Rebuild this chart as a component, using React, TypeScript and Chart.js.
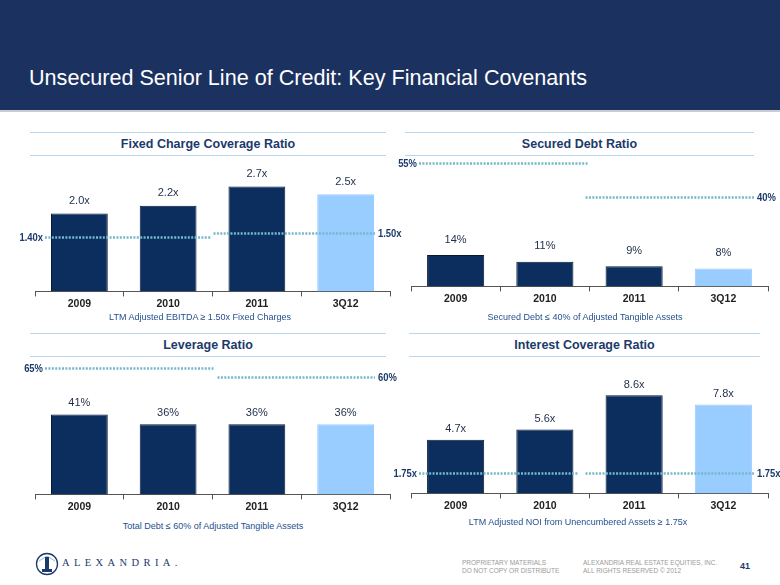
import React, { useEffect, useRef } from 'react';
import { Chart, registerables } from 'chart.js';

Chart.register(...registerables);

// ---------- data ----------
const categories = ['2009', '2010', '2011', '3Q12'];

const fixedChargeValues = [2.0, 2.2, 2.7, 2.5];
const fixedChargeThresholds = [1.4, 1.5];

const securedDebtValues = [14, 11, 9, 8];
const securedDebtThresholds = [55, 40];

const leverageValues = [41, 36, 36, 36];
const leverageThresholds = [65, 60];

const interestValues = [4.7, 5.6, 8.6, 7.8];
const interestThresholds = [1.75, 1.75];

const panelTitles = [
  'Fixed Charge Coverage Ratio',
  'Secured Debt Ratio',
  'Leverage Ratio',
  'Interest Coverage Ratio',
];
const panelSubtitles = [
  'LTM Adjusted EBITDA \u2265 1.50x Fixed Charges',
  'Secured Debt \u2264 40% of Adjusted Tangible Assets',
  'Total Debt \u2264 60% of Adjusted Tangible Assets',
  'LTM Adjusted NOI from Unencumbered Assets \u2265 1.75x',
];

// ---------- styles ----------
const FONT = '"Liberation Sans", Arial, Helvetica, sans-serif';
const NAVY = '#0C2E5E';
const NAVY_EDGE = '#061A38';
const LIGHT = '#99CCFF';
const DOT = '#74B9CB';
const TEXT_NAVY = '#1B3A6B';

const fmtX = (v: number) => v.toFixed(1) + 'x';
const fmtPct = (v: number) => Math.round(v) + '%';
const fmtThrX = (v: number) => v.toFixed(2) + 'x';

const annotatePlugin = {
  id: 'annotate',
  afterDatasetsDraw(chart: any, _args: any, opts: any) {
    const ctx = chart.ctx as CanvasRenderingContext2D;
    const meta = chart.getDatasetMeta(0);
    const data = chart.data.datasets[0].data as number[];
    ctx.save();
    // value labels
    ctx.font = '11px ' + FONT;
    ctx.fillStyle = '#1E2D4A';
    ctx.textAlign = 'center';
    ctx.textBaseline = 'bottom';
    meta.data.forEach((bar: any, i: number) => {
      ctx.fillText(opts.format(data[i]), bar.x, bar.y - opts.labelGap);
    });
    // threshold lines
    const { left, right } = chart.chartArea;
    const mid = (left + right) / 2;
    const yScale = chart.scales.y;
    const spans = [
      [left + opts.spans[0][0], mid + opts.spans[0][1]],
      [mid + opts.spans[1][0], right + opts.spans[1][1]],
    ];
    const SX = 0.82;
    (opts.thresholds as number[]).forEach((t, i) => {
      const py = Math.round(yScale.getPixelForValue(t)) + 0.5;
      const [x0, x1] = spans[i];
      ctx.strokeStyle = DOT;
      ctx.lineWidth = 2.5;
      ctx.setLineDash([2, 1.4]);
      ctx.beginPath();
      ctx.moveTo(x0, py);
      ctx.lineTo(x1, py);
      ctx.stroke();
      ctx.setLineDash([]);
      // condensed bold label
      ctx.save();
      ctx.font = 'bold 11.5px ' + FONT;
      ctx.fillStyle = TEXT_NAVY;
      ctx.textBaseline = 'middle';
      const label = opts.thresholdFormat(t);
      if (i === 0) {
        ctx.translate(x0 - 2, py);
        ctx.scale(SX, 1);
        ctx.textAlign = 'right';
      } else {
        ctx.translate(x1 + 3, py);
        ctx.scale(SX, 1);
        ctx.textAlign = 'left';
      }
      ctx.fillText(label, 0, 0);
      ctx.restore();
    });
    ctx.restore();
  },
};

type PanelProps = {
  values: number[];
  thresholds: number[];
  format: (v: number) => string;
  thresholdFormat: (v: number) => string;
  max: number;
  box: { left: number; top: number; width: number; height: number };
  padding: { left: number; right: number; top: number; bottom: number };
  labelGap: number;
  spans: number[][];
};

function BarPanel(p: PanelProps) {
  const ref = useRef<HTMLCanvasElement>(null);
  useEffect(() => {
    if (!ref.current) return;
    const colors = p.values.map((_, i) => (i === p.values.length - 1 ? LIGHT : NAVY));
    const edges = p.values.map((_, i) => (i === p.values.length - 1 ? LIGHT : NAVY_EDGE));
    const chart = new Chart(ref.current, {
      type: 'bar',
      data: {
        labels: categories,
        datasets: [
          {
            data: p.values,
            backgroundColor: colors,
            borderColor: edges,
            borderWidth: 1,
            barPercentage: 0.64,
            categoryPercentage: 1,
          },
        ],
      },
      options: {
        animation: false,
        responsive: false,
        maintainAspectRatio: false,
        layout: { padding: p.padding },
        plugins: {
          legend: { display: false },
          tooltip: { enabled: false },
          annotate: {
            format: p.format,
            thresholds: p.thresholds,
            thresholdFormat: p.thresholdFormat,
            labelGap: p.labelGap,
            spans: p.spans,
          },
        } as any,
        scales: {
          x: {
            grid: {
              display: true,
              drawOnChartArea: false,
              drawTicks: true,
              tickLength: 5,
              color: '#555',
              offset: true,
            },
            border: { display: true, color: '#555', width: 1 },
            ticks: {
              color: '#222',
              padding: 1,
              font: { family: FONT, size: 10.5, weight: 'bold' },
            },
          },
          y: { display: false, min: 0, max: p.max },
        },
      },
      plugins: [annotatePlugin],
    });
    return () => chart.destroy();
  }, []);
  return (
    <canvas
      ref={ref}
      width={p.box.width}
      height={p.box.height}
      style={{
        position: 'absolute',
        left: p.box.left,
        top: p.box.top,
        width: p.box.width,
        height: p.box.height,
      }}
    />
  );
}

function PanelTitle({ text, left, top, width }: { text: string; left: number; top: number; width: number }) {
  return (
    <div
      style={{
        position: 'absolute',
        left,
        top,
        width,
        height: 22,
        borderTop: '1px solid #B9D7EE',
        borderBottom: '1px solid #B9D7EE',
        color: TEXT_NAVY,
        font: 'bold 12.5px ' + FONT,
        lineHeight: '22px',
        textAlign: 'center',
      }}
    >
      {text}
    </div>
  );
}

function Subtitle({ text, center, top }: { text: string; center: number; top: number }) {
  return (
    <div
      style={{
        position: 'absolute',
        left: center - 200,
        top,
        width: 400,
        textAlign: 'center',
        color: '#24508F',
        font: '9px ' + FONT,
        lineHeight: '11px',
        whiteSpace: 'nowrap',
      }}
    >
      {text}
    </div>
  );
}

export default function App() {
  useEffect(() => {
    document.body.style.margin = '0';
    document.body.style.background = '#fff';
  }, []);
  return (
    <div style={{ position: 'relative', width: 780, height: 585, overflow: 'hidden', background: '#fff', fontFamily: FONT }}>
      <div style={{ position: 'absolute', left: 0, top: 0, width: 780, height: 110, background: '#1B3260' }} />
      <div style={{ position: 'absolute', left: 0, top: 110, width: 780, height: 2, background: '#C9CCD3' }} />
      <div
        style={{
          position: 'absolute',
          left: 29,
          top: 64,
          color: '#FFFFFF',
          font: '21.6px ' + FONT,
          lineHeight: '28px',
          whiteSpace: 'nowrap',
        }}
      >
        Unsecured Senior Line of Credit: Key Financial Covenants
      </div>

      <PanelTitle text={panelTitles[0]} left={30} top={132} width={356} />
      <PanelTitle text={panelTitles[1]} left={405} top={132} width={349} />
      <PanelTitle text={panelTitles[2]} left={30} top={333} width={356} />
      <PanelTitle text={panelTitles[3]} left={409} top={333} width={351} />

      <BarPanel
        values={fixedChargeValues}
        thresholds={fixedChargeThresholds}
        format={fmtX}
        thresholdFormat={fmtThrX}
        max={3.25}
        box={{ left: 0, top: 158, width: 412, height: 156 }}
        padding={{ left: 35, right: 22, top: 7, bottom: 3 }}
        labelGap={7}
        spans={[[10, -1], [1, -15]]}
      />
      <BarPanel
        values={securedDebtValues}
        thresholds={securedDebtThresholds}
        format={fmtPct}
        thresholdFormat={fmtPct}
        max={57.3}
        box={{ left: 390, top: 150, width: 390, height: 164 }}
        padding={{ left: 21, right: 12, top: 8, bottom: 8 }}
        labelGap={10}
        spans={[[8, -2], [-4, -14]]}
      />
      <BarPanel
        values={leverageValues}
        thresholds={leverageThresholds}
        format={fmtPct}
        thresholdFormat={fmtPct}
        max={70}
        box={{ left: 0, top: 356, width: 412, height: 162 }}
        padding={{ left: 35, right: 22, top: 2, bottom: 4 }}
        labelGap={6}
        spans={[[10, 1], [5, -15]]}
      />
      <BarPanel
        values={interestValues}
        thresholds={interestThresholds}
        format={fmtX}
        thresholdFormat={fmtThrX}
        max={11}
        box={{ left: 390, top: 360, width: 390, height: 158 }}
        padding={{ left: 21, right: 12, top: 8, bottom: 5 }}
        labelGap={5}
        spans={[[8, -11], [-4, -14]]}
      />

      <Subtitle text={panelSubtitles[0]} center={200} top={312} />
      <Subtitle text={panelSubtitles[1]} center={585} top={312} />
      <Subtitle text={panelSubtitles[2]} center={213} top={521} />
      <Subtitle text={panelSubtitles[3]} center={578} top={517} />

      {/* footer */}
      <svg style={{ position: 'absolute', left: 35, top: 552 }} width={24} height={24} viewBox="0 0 24 24">
        <circle cx={12} cy={12} r={10.5} fill="none" stroke={TEXT_NAVY} strokeWidth={1.3} />
        <line x1={12} y1={4} x2={4} y2={9} stroke="#7FA3C9" strokeWidth={0.8} />
        <line x1={12} y1={4} x2={20} y2={9} stroke="#7FA3C9" strokeWidth={0.8} />
        <rect x={10} y={5} width={4} height={12} fill={TEXT_NAVY} />
        <rect x={7} y={17} width={10} height={3} fill={TEXT_NAVY} />
      </svg>
      <div
        style={{
          position: 'absolute',
          left: 62,
          top: 557,
          color: TEXT_NAVY,
          font: '10.5px "Liberation Serif", "Times New Roman", serif',
          letterSpacing: '4.4px',
          lineHeight: '12px',
          whiteSpace: 'nowrap',
        }}
      >
        ALEXANDRIA.
      </div>
      <div
        style={{
          position: 'absolute',
          left: 462,
          top: 559,
          color: '#9A9A9A',
          font: '6.5px ' + FONT,
          lineHeight: '7.5px',
          whiteSpace: 'nowrap',
        }}
      >
        PROPRIETARY MATERIALS
        <br />
        DO NOT COPY OR DISTRIBUTE
      </div>
      <div
        style={{
          position: 'absolute',
          left: 583,
          top: 559,
          color: '#9A9A9A',
          font: '6.5px ' + FONT,
          lineHeight: '7.5px',
          whiteSpace: 'nowrap',
        }}
      >
        ALEXANDRIA REAL ESTATE EQUITIES, INC.
        <br />
        ALL RIGHTS RESERVED {'\u00A9'} 2012
      </div>
      <div
        style={{
          position: 'absolute',
          left: 740,
          top: 561,
          color: TEXT_NAVY,
          font: 'bold 9px ' + FONT,
          lineHeight: '11px',
        }}
      >
        41
      </div>
    </div>
  );
}
